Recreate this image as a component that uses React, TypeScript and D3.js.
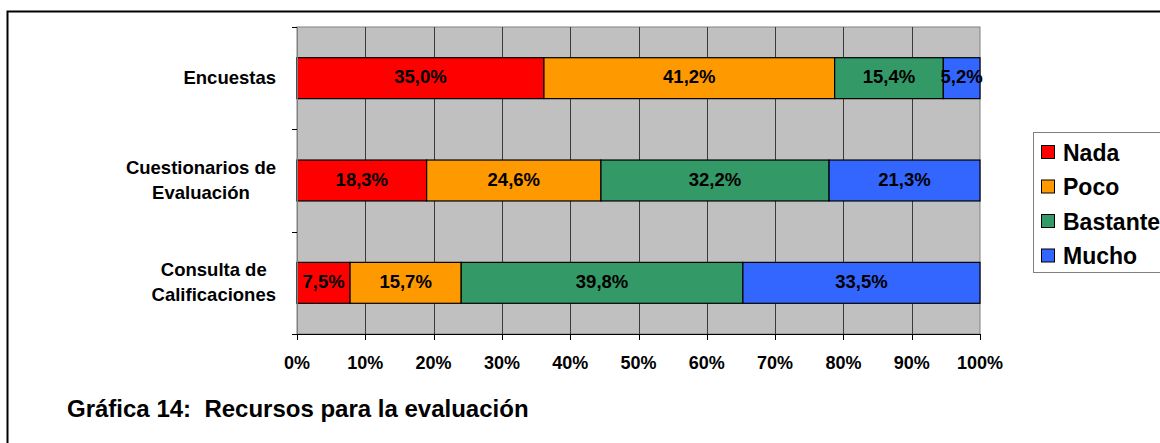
import React, { useEffect, useRef } from 'react';
import * as d3 from 'd3';

// Categories, top to bottom as drawn
const categories = ['Encuestas', 'Cuestionarios de\nEvaluación', 'Consulta de\nCalificaciones'];
const seriesNames = ['Nada', 'Poco', 'Bastante', 'Mucho'];
const seriesColors = ['#FF0000', '#FF9900', '#339966', '#3366FF'];

// Percent values per series (same order as categories)
const nada = [35.0, 18.3, 7.5];
const poco = [41.2, 24.6, 15.7];
const bastante = [15.4, 32.2, 39.8];
const mucho = [5.2, 21.3, 33.5];

const xTicks = [0, 0.1, 0.2, 0.3, 0.4, 0.5, 0.6, 0.7, 0.8, 0.9, 1];
const title = 'Gráfica 14:  Recursos para la evaluación';

const App = () => {
    const svgRef = useRef<SVGSVGElement>(null);

    useEffect(() => {
        const width = 1160;
        const height = 443;
        const font = '"Liberation Sans", Arial, sans-serif';

        const svg = d3.select(svgRef.current);
        svg.selectAll('*').remove();
        svg.attr('width', width).attr('height', height);

        // Outer chart frame (runs past the right and bottom edge)
        svg.append('rect')
            .attr('x', 7.5).attr('y', 11.5)
            .attr('width', 1200).attr('height', 500)
            .attr('fill', '#fff')
            .attr('stroke', '#000')
            .attr('stroke-width', 2);

        // Plot area
        const plot = { left: 297, right: 980, top: 27, bottom: 334 };

        const xScale = d3.scaleLinear().domain([0, 1]).range([plot.left, plot.right]);
        const yScale = d3.scaleBand()
            .domain(categories)
            .range([plot.top, plot.bottom])
            .paddingInner(0.6)
            .paddingOuter(0.3);

        // Table for stacking
        const table = categories.map((c, i) => ({
            category: c,
            Nada: nada[i],
            Poco: poco[i],
            Bastante: bastante[i],
            Mucho: mucho[i]
        }));
        const stacked = d3.stack<any>().keys(seriesNames).offset(d3.stackOffsetExpand)(table);

        // Gray plot background
        svg.append('rect')
            .attr('x', plot.left).attr('y', plot.top)
            .attr('width', plot.right - plot.left)
            .attr('height', plot.bottom - plot.top)
            .attr('fill', '#C0C0C0')
            .attr('stroke', '#808080')
            .attr('stroke-width', 1);

        // Vertical gridlines
        svg.append('g')
            .selectAll('line')
            .data(xTicks.slice(1, -1))
            .enter()
            .append('line')
            .attr('x1', d => Math.round(xScale(d)) + 0.5)
            .attr('x2', d => Math.round(xScale(d)) + 0.5)
            .attr('y1', plot.top)
            .attr('y2', plot.bottom)
            .attr('stroke', '#3a3a3a')
            .attr('stroke-width', 1);

        // Bars
        const groups = svg.append('g')
            .selectAll('g')
            .data(stacked)
            .enter()
            .append('g')
            .attr('fill', (_, i) => seriesColors[i]);

        groups.selectAll('rect')
            .data(d => d)
            .enter()
            .append('rect')
            .attr('x', d => xScale(d[0]))
            .attr('y', d => yScale(d.data.category)!)
            .attr('width', d => xScale(d[1]) - xScale(d[0]))
            .attr('height', yScale.bandwidth())
            .attr('stroke', '#000')
            .attr('stroke-width', 1.2);

        // Value labels
        stacked.forEach(layer => {
            svg.append('g')
                .selectAll('text')
                .data(layer)
                .enter()
                .append('text')
                .attr('x', d => (xScale(d[0]) + xScale(d[1])) / 2)
                .attr('y', d => yScale(d.data.category)! + yScale.bandwidth() / 2 + 5)
                .attr('text-anchor', 'middle')
                .attr('font-family', font)
                .attr('font-weight', 'bold')
                .attr('font-size', '18.5px')
                .attr('fill', '#000')
                .text(d => d3.format('.1f')(d.data[layer.key]).replace('.', ',') + '%');
        });

        // Left axis line and ticks at band boundaries
        svg.append('line')
            .attr('x1', plot.left + 0.5).attr('x2', plot.left + 0.5)
            .attr('y1', plot.top).attr('y2', plot.bottom)
            .attr('stroke', '#808080');
        const bandEdges = categories.map(c => yScale(c)! - yScale.step() * 0.3);
        svg.append('g')
            .selectAll('line')
            .data(bandEdges.concat([plot.bottom]))
            .enter()
            .append('line')
            .attr('x1', plot.left - 5).attr('x2', plot.left)
            .attr('y1', d => Math.round(d) + 0.5)
            .attr('y2', d => Math.round(d) + 0.5)
            .attr('stroke', '#000');

        // Bottom axis
        svg.append('line')
            .attr('x1', plot.left - 5).attr('x2', plot.right)
            .attr('y1', plot.bottom + 0.5).attr('y2', plot.bottom + 0.5)
            .attr('stroke', '#000');
        const xAxis = svg.append('g');
        xAxis.selectAll('line')
            .data(xTicks)
            .enter()
            .append('line')
            .attr('x1', d => Math.round(xScale(d)) + 0.5)
            .attr('x2', d => Math.round(xScale(d)) + 0.5)
            .attr('y1', plot.bottom)
            .attr('y2', plot.bottom + 6)
            .attr('stroke', '#000');
        xAxis.selectAll('text')
            .data(xTicks)
            .enter()
            .append('text')
            .attr('x', d => xScale(d))
            .attr('y', 369)
            .attr('text-anchor', 'middle')
            .attr('font-family', font)
            .attr('font-weight', 'bold')
            .attr('font-size', '18px')
            .text(d => d3.format('.0%')(d));

        // Category labels: each block right-aligned, lines centered inside it
        const labelRight = 276;
        categories.forEach(c => {
            const lines = c.split('\n');
            const cy = yScale(c)! + yScale.bandwidth() / 2;
            const g = svg.append('g');
            const texts = lines.map((line, i) =>
                g.append('text')
                    .attr('y', cy + 5.5 + (i - (lines.length - 1) / 2) * 25)
                    .attr('text-anchor', 'middle')
                    .attr('font-family', font)
                    .attr('font-weight', 'bold')
                    .attr('font-size', '18.5px')
                    .text(line)
            );
            const maxW = d3.max(texts, t => (t.node() as SVGTextElement).getComputedTextLength()) || 0;
            texts.forEach(t => t.attr('x', labelRight - maxW / 2));
        });

        // Legend (box runs past the right edge, as in the original)
        const legend = svg.append('g');
        legend.append('rect')
            .attr('x', 1033.5).attr('y', 132.5)
            .attr('width', 200).attr('height', 140)
            .attr('fill', '#fff')
            .attr('stroke', '#808080');
        seriesNames.forEach((name, i) => {
            const baseline = 160.5 + i * 34.5;
            legend.append('rect')
                .attr('x', 1041.5).attr('y', baseline - 15)
                .attr('width', 13).attr('height', 13)
                .attr('fill', seriesColors[i])
                .attr('stroke', '#000');
            legend.append('text')
                .attr('x', 1063)
                .attr('y', baseline)
                .attr('font-family', font)
                .attr('font-weight', 'bold')
                .attr('font-size', '23px')
                .text(name);
        });

        // Caption
        svg.append('text')
            .attr('x', 67)
            .attr('y', 417)
            .attr('font-family', font)
            .attr('font-weight', 'bold')
            .attr('font-size', '24px')
            .attr('xml:space', 'preserve')
            .style('white-space', 'pre')
            .text(title);
    }, []);

    return <svg ref={svgRef} style={{ position: 'absolute', left: 0, top: 0 }}></svg>;
};

export default App;
